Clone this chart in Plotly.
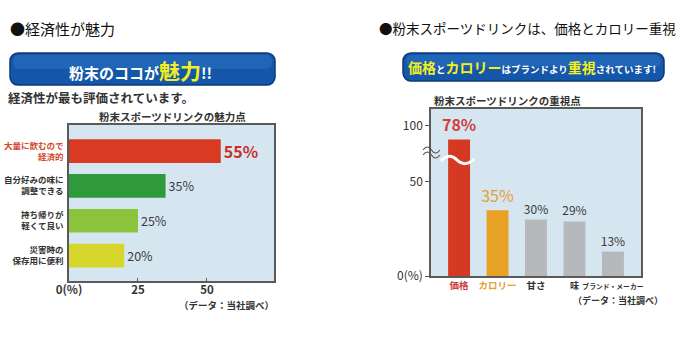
import plotly.graph_objects as go

# ---------------- data ----------------
left_categories = ["大量に飲むので経済的", "自分好みの味に調整できる", "持ち帰りが軽くて良い", "災害時の保存用に便利"]
left_tick_labels = ["大量に飲むので<br>経済的", "自分好みの味に<br>調整できる", "持ち帰りが<br>軽くて良い", "災害時の<br>保存用に便利"]
left_values = [55, 35, 25, 20]
left_x_ticks = [0, 25, 50]
left_x_ticktext = ["0(%)", "25", "50"]

right_categories = ["価格", "カロリー", "甘さ", "味", "ブランド・メーカー"]
right_values = [78, 35, 30, 29, 13]
right_y_ticks = [0, 50, 100]
right_y_ticktext = ["0(%)", "50", "100"]

# ---------------- styles ----------------
FONT = "Noto Sans CJK JP"
W, H = 700, 342
left_colors = ["#d83b22", "#2f9a3c", "#8cc33c", "#d6d62c"]
left_text_colors = ["#c8302a", "#3a3a3a", "#3a3a3a", "#3a3a3a"]
left_text_sizes = [16, 12.5, 12.5, 12.5]
left_text_bold = [True, False, False, False]
left_label_colors = ["#d24a2c", "#333333", "#333333", "#333333"]

right_colors = ["#d43a22", "#e7a125", "#b5b9bc", "#b5b9bc", "#b5b9bc"]
right_text_colors = ["#d0403a", "#e4a030", "#3a3a3a", "#3a3a3a", "#3a3a3a"]
right_text_sizes = [16, 16, 12, 12, 12]
right_text_bold = [True, False, False, False, False]
right_label_colors = ["#d0403a", "#e4a030", "#333333", "#333333", "#333333"]
right_label_sizes = [9.5, 9.5, 9.5, 9, 6.8]

# broken axis: values above BREAK are compressed
BREAK, SQUEEZE = 70, 0.33


def axis_break(v):
    return v if v <= BREAK else BREAK + (v - BREAK) * SQUEEZE


def px(x):
    return x / W


def py(y):
    return 1 - y / H


def path_from(cmds):
    out = []
    for c in cmds:
        if isinstance(c, str):
            out.append(c)
        else:
            out.append(f"{px(c[0]):.5f},{py(c[1]):.5f}")
    return " ".join(out)


def rounded_rect(x0, y0, x1, y1, r):
    k = 0.55 * r
    return path_from([
        "M", (x0 + r, y0), "L", (x1 - r, y0),
        "C", (x1 - r + k, y0), (x1, y0 + r - k), (x1, y0 + r),
        "L", (x1, y1 - r),
        "C", (x1, y1 - r + k), (x1 - r + k, y1), (x1 - r, y1),
        "L", (x0 + r, y1),
        "C", (x0 + r - k, y1), (x0, y1 - r + k), (x0, y1 - r),
        "L", (x0, y0 + r),
        "C", (x0, y0 + r - k), (x0 + r - k, y0), (x0 + r, y0), "Z",
    ])


fig = go.Figure()

fig.add_trace(go.Bar(
    x=left_values, y=left_categories, orientation="h",
    marker=dict(color=left_colors, line=dict(width=0)),
    width=0.68,
    text=[f"<b>{v}%</b>" if b else f"{v}%" for v, b in zip(left_values, left_text_bold)],
    textposition="outside", constraintext="none",
    textfont=dict(family=FONT, size=left_text_sizes, color=left_text_colors),
    cliponaxis=False, xaxis="x", yaxis="y", hoverinfo="skip",
))

fig.add_trace(go.Bar(
    x=right_categories, y=[axis_break(v) for v in right_values],
    marker=dict(color=right_colors, line=dict(width=0)),
    width=0.57,
    text=[f"<b>{v}%</b>" if b else f"{v}%" for v, b in zip(right_values, right_text_bold)],
    textposition="outside", constraintext="none",
    textfont=dict(family=FONT, size=right_text_sizes, color=right_text_colors),
    cliponaxis=False, xaxis="x2", yaxis="y2", hoverinfo="skip",
))

axis_line = dict(showline=True, mirror=True, linecolor="#5a5a5a", linewidth=1.5, showgrid=False,
                 zeroline=False, automargin=False)

fig.update_layout(
    width=W, height=H, margin=dict(l=0, r=0, t=0, b=0, autoexpand=False),
    paper_bgcolor="white", plot_bgcolor="#d5e6f1",
    showlegend=False, font=dict(family=FONT, color="#333333"),
    xaxis=dict(domain=[px(69), px(274)], anchor="y", range=[0, 74.3],
               tickmode="array", tickvals=left_x_ticks, ticktext=left_x_ticktext,
               ticks="inside", ticklen=3, tickcolor="#5a5a5a", ticklabelstandoff=-3,
               tickfont=dict(size=11.5, color="#333333", weight="bold"), **axis_line),
    yaxis=dict(domain=[py(281), py(125)], anchor="x", type="category",
               categoryorder="array", categoryarray=left_categories, range=[3.73, -0.75],
               tickmode="array", tickvals=left_categories,
               ticktext=[f"<span style='color:{c}'><b>{t}</b></span>" for t, c in zip(left_tick_labels, left_label_colors)],
               ticks="", tickfont=dict(size=8.5, color="#333333"), ticklabelstandoff=2, **axis_line),
    xaxis2=dict(domain=[px(431), px(641)], anchor="y2", type="category",
                categoryorder="array", categoryarray=right_categories, range=[-0.73, 4.73],
                tickmode="array", tickvals=right_categories, tickangle=0,
                ticktext=[f"<span style='color:{c};font-size:{s}px'><b>{t}</b></span>"
                          for t, c, s in zip(right_categories, right_label_colors, right_label_sizes)],
                ticks="", tickfont=dict(size=9.5), ticklabelstandoff=0, **axis_line),
    yaxis2=dict(domain=[py(276), py(109)], anchor="x2", range=[0, 88.8],
                tickmode="array", tickvals=[axis_break(v) for v in right_y_ticks], ticktext=right_y_ticktext,
                ticks="outside", ticklen=4, tickcolor="#5a5a5a",
                tickfont=dict(size=12, color="#333333"), **axis_line),
)

shapes = []
# banners
for (x0, y0, x1, y1) in [(10, 53, 275, 85), (403, 53, 664, 81)]:
    shapes.append(dict(type="path", xref="paper", yref="paper", path=rounded_rect(x0, y0, x1, y1, 8),
                       fillcolor="#1457a8", line=dict(color="#0b3a7a", width=1.5), layer="below"))
    shapes.append(dict(type="path", xref="paper", yref="paper",
                       path=rounded_rect(x0 + 3, y0 + 2, x1 - 3, (y0 + y1) / 2, 6),
                       fillcolor="#3a82d0", opacity=0.35, line=dict(width=0), layer="below"))

# axis break symbol on right y-axis
for dy in (150, 155):
    shapes.append(dict(type="path", xref="paper", yref="paper",
                       path=path_from(["M", (423, dy), "C", (426, dy - 4), (429, dy - 4), (431.5, dy),
                                       "C", (434, dy + 4), (437, dy + 4), (440, dy)]),
                       line=dict(color="#555555", width=1.2), fillcolor="rgba(0,0,0,0)", layer="above"))
# white wave across the price bar
shapes.append(dict(type="path", xref="paper", yref="paper",
                   path=path_from(["M", (441, 161), "C", (446, 155), (452, 155), (457, 160),
                                   "C", (462, 165), (468, 165), (474, 159)]),
                   line=dict(color="white", width=3), fillcolor="rgba(0,0,0,0)", layer="above"))
fig.update_layout(shapes=shapes)

ann = []


def note(text, x, y, size, color="#333333", anchor="left", bold=False):
    ann.append(dict(text=f"<b>{text}</b>" if bold else text, x=px(x), y=py(y), xref="paper", yref="paper",
                    xanchor=anchor, yanchor="middle", showarrow=False,
                    font=dict(family=FONT, size=size, color=color)))


note("●経済性が魅力", 8, 28, 15, "#111111")
note("●粉末スポーツドリンクは、価格とカロリー重視", 377, 28, 13.5, "#111111")
note("粉末のココが<span style='color:#f2f020;font-size:21px'>魅力</span>!!", 140, 70, 15, "white", "center", True)
note("<span style='color:#f2f020;font-size:14px'>価格</span>と"
     "<span style='color:#f2f020;font-size:14px'>カロリー</span>はブランドより"
     "<span style='color:#f2f020;font-size:14px'>重視</span>されています!",
     532, 67, 9.5, "white", "center", True)
note("経済性が最も評価されています。", 6, 98, 12.5, "#333333", "left", True)
note("粉末スポーツドリンクの魅力点", 172, 117, 10.5, "#333333", "center", True)
note("粉末スポーツドリンクの重視点", 507, 100, 10.5, "#333333", "center", True)
note("（データ：当社調べ）", 276, 305, 9.5, "#333333", "right", True)
note("（データ：当社調べ）", 571, 300, 9, "#333333", "left", True)
fig.update_layout(annotations=ann)

fig.write_html("out.html")
